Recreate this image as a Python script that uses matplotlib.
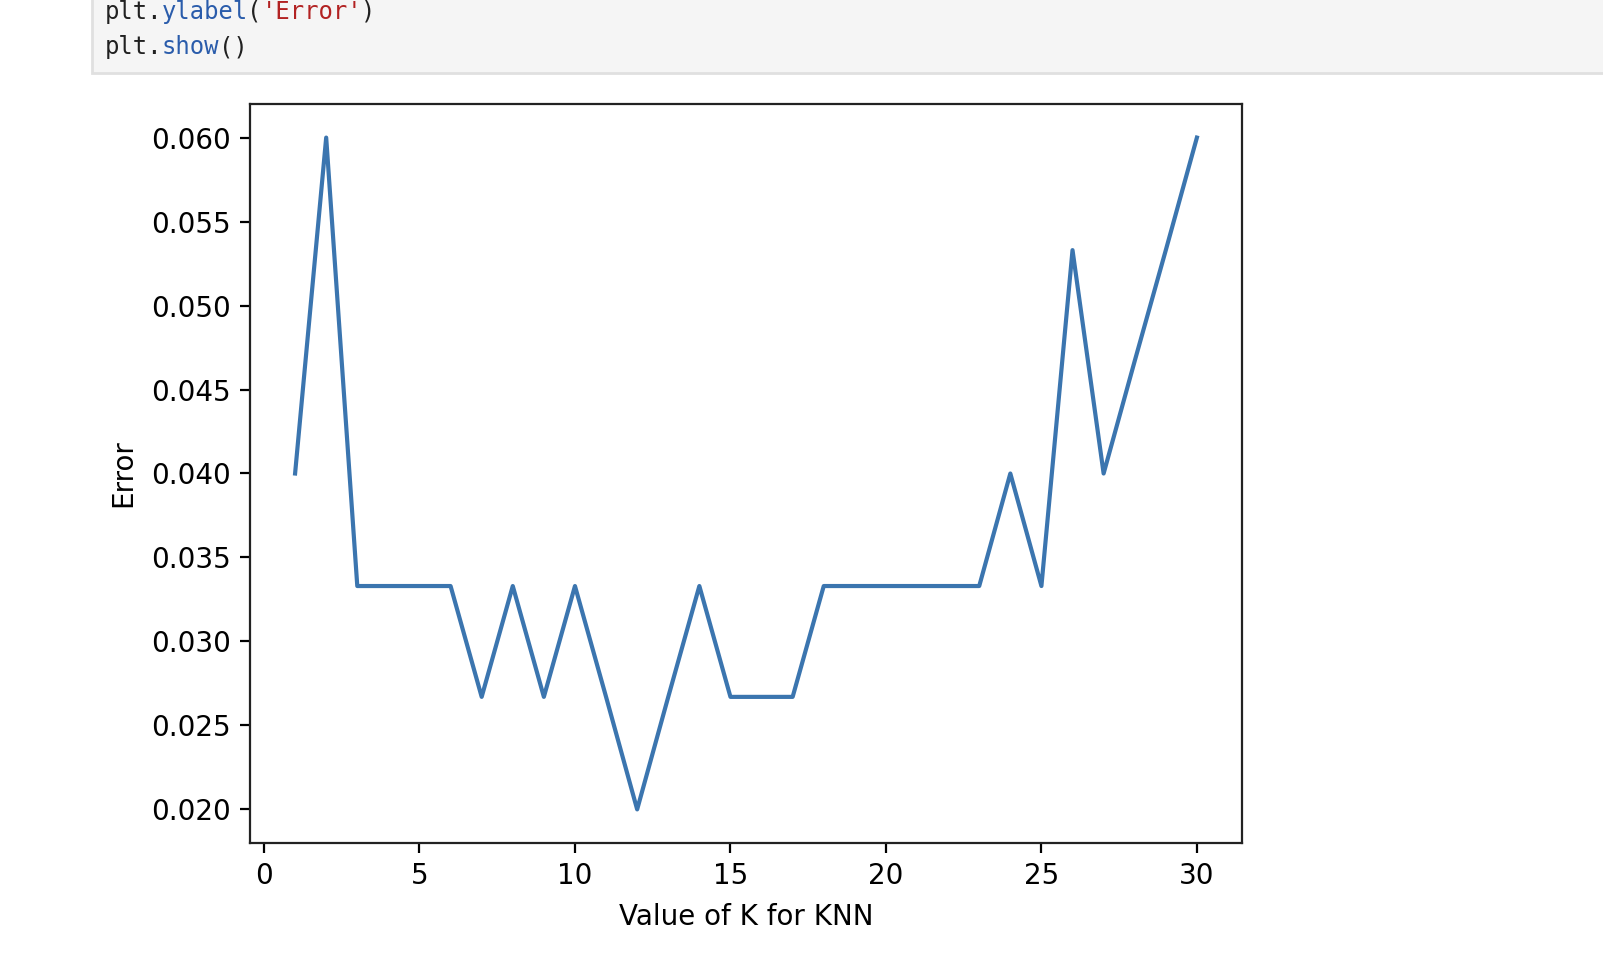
import matplotlib
matplotlib.use('Agg')
import matplotlib.pyplot as plt
from matplotlib.patches import Rectangle

# error rate for each K (test set of 150 samples)
k_values = list(range(1, 31))
errors = [0.0400, 0.0600, 0.0333, 0.0333, 0.0333, 0.0333, 0.0267, 0.0333, 0.0267, 0.0333,
          0.0267, 0.0200, 0.0267, 0.0333, 0.0267, 0.0267, 0.0267, 0.0333, 0.0333, 0.0333,
          0.0333, 0.0333, 0.0333, 0.0400, 0.0333, 0.0533, 0.0400, 0.0467, 0.0533, 0.0600]

# notebook code cell lines shown above the plot: (text, colour) pieces
code_lines = [
    [('plt.', '#212121'), ('ylabel', '#2a5cab'), ('(', '#212121'), ("'Error'", '#b22222'), (')', '#212121')],
    [('plt.', '#212121'), ('show', '#2a5cab'), ('()', '#212121')],
]

W, H = 1603, 958
fig = plt.figure(figsize=(W / 100, H / 100), dpi=100)

# code cell background (runs off the top and right of the screenshot)
fig.patches.append(Rectangle((92 / W, 1 - 73 / H), 1.0, 100 / H, transform=fig.transFigure,
                             facecolor='#f5f5f5', edgecolor='#e0e0e0', linewidth=2))
fs_code = 17.2
char_w = 14.1
for i, parts in enumerate(code_lines):
    y = 12 + 35 * i
    x = 105
    for txt, col in parts:
        fig.text(x / W, 1 - y / H, txt, color=col, fontsize=fs_code,
                 family='DejaVu Sans Mono', va='center', ha='left')
        x += len(txt) * char_w + 0.6

ax = fig.add_axes([250 / W, 1 - 843 / H, 992 / W, 739 / H])
ax.plot(k_values, errors, color='#3b75af', linewidth=3)
ax.set_xlabel('Value of K for KNN', fontsize=20, labelpad=9)
ax.set_ylabel('Error', fontsize=20, labelpad=10)
ax.set_xticks([0, 5, 10, 15, 20, 25, 30])
ax.set_yticks([0.020, 0.025, 0.030, 0.035, 0.040, 0.045, 0.050, 0.055, 0.060])
ax.tick_params(labelsize=20, length=7, width=1.6, pad=7)
for s in ax.spines.values():
    s.set_linewidth(1.6)
    s.set_color('#222222')

fig.savefig('out.png', dpi=100)
